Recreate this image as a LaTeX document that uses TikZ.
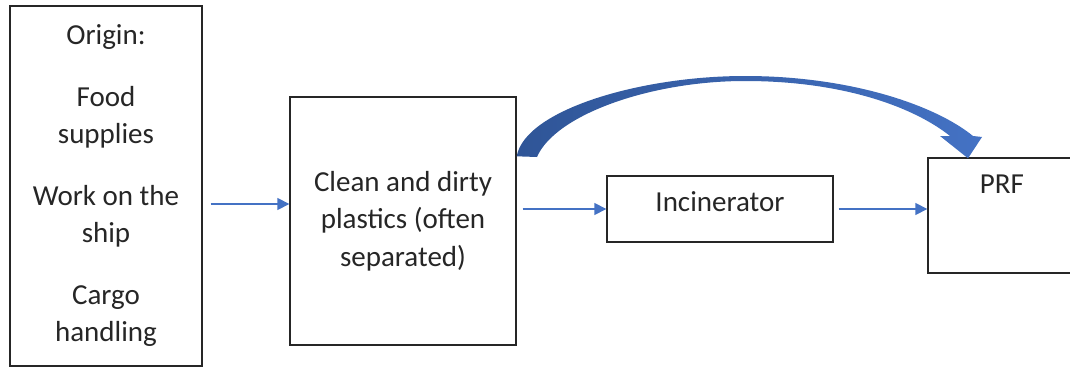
\documentclass[tikz,border=0pt]{standalone}
\usepackage{fontspec}
\setmainfont{Carlito}
\usetikzlibrary{arrows.meta,positioning}
\usepackage{xcolor}
\definecolor{flowblue}{RGB}{68,114,196}
\definecolor{flowdark}{RGB}{47,85,151}

\begin{document}
\begin{tikzpicture}[x=1pt, y=-1pt,
        box/.style={draw=black!85, line width=1.4pt, align=center, text=black!85,
                font=\fontsize{29}{37.5}\selectfont, inner sep=0pt},
        flow/.style={draw=flowblue, line width=1.6pt, -{Triangle[length=12pt,width=12pt]}}]
        \path[use as bounding box, clip] (0,0) rectangle (1070,369);

        \node[box, minimum width=192, minimum height=360] (origin) at (106,186)
                {Origin:\\[24pt]Food\\supplies\\[24pt]Work on the\\ship\\[24pt]Cargo\\handling};
        \node[box, minimum width=226, minimum height=248] (clean) at (403,221)
                {Clean and dirty\\plastics (often\\separated)};
        \node[box, minimum width=226, minimum height=66, inner ysep=16pt,
                text height=19pt, text depth=15pt] (incin) at (720,209) {Incinerator};
        \node[box, minimum width=148, minimum height=115, inner ysep=16pt,
                text height=19pt, text depth=64pt] (prf) at (1002,215.5) {PRF};

        \coordinate (level) at (0,204);
        \draw[flow, shorten <=8pt] (origin.east |- level) -- (clean.west |- level);
        \draw[flow, shorten <=6pt] (clean.east |- incin.west) -- (incin.west);
        \draw[flow, shorten <=5pt] (incin.east) -- (incin.east -| prf.west);

        % big bent arrow over the incinerator
        \coordinate (tail) at ([yshift=-60pt]clean.north east);
        \coordinate (tip) at ([xshift=-34pt,yshift=-1pt]prf.north);
        \shade[left color=flowdark, right color=flowblue]
                (tail) .. controls (525,110) and (640,76) .. (745,76)
                .. controls (850,76) and (935,105) .. (973,136)
                -- (982,137) -- (tip) -- (940,136) -- (950,136)
                .. controls (915,108) and (845,81) .. (745,81)
                .. controls (650,81) and (555,115) .. (537,157) -- cycle;
\end{tikzpicture}
\end{document}
